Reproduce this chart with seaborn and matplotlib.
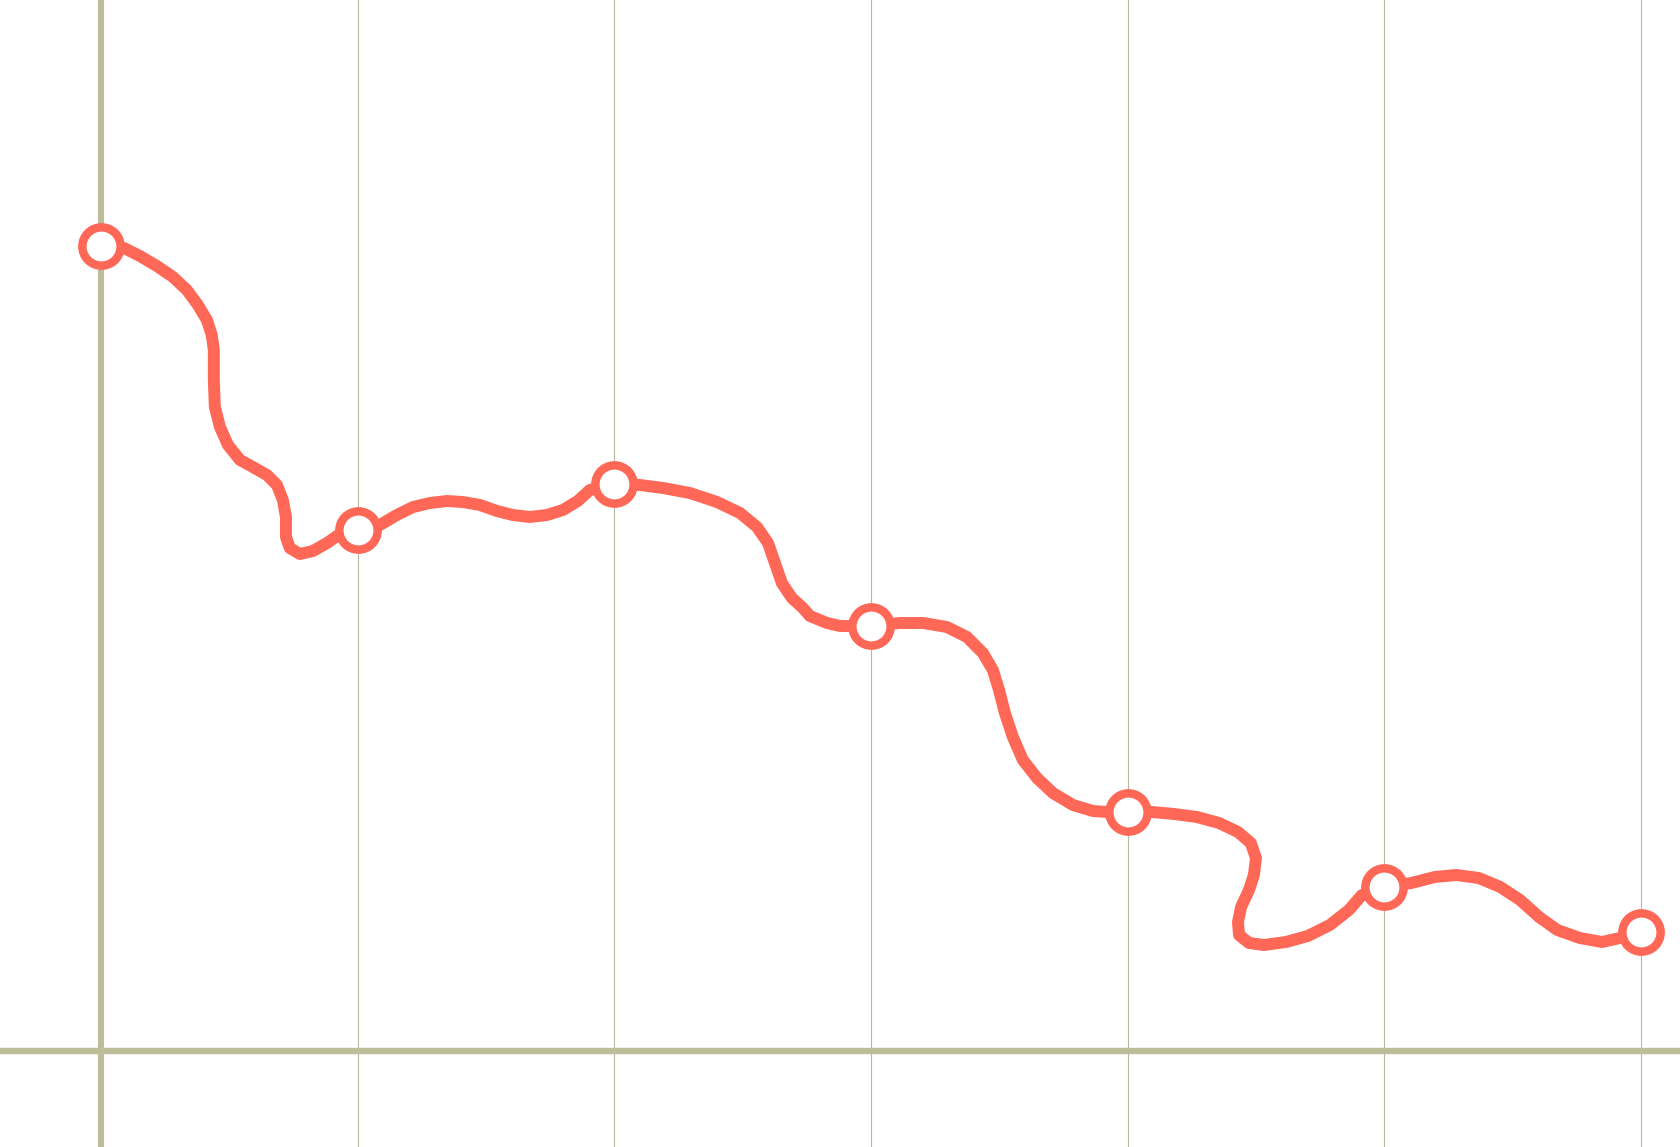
import matplotlib
matplotlib.use("Agg")
import matplotlib.pyplot as plt
import seaborn as sns
import pandas as pd

# data points (categories 0..6, no labels shown)
point_x = [0, 1, 2, 3, 4, 5, 6]
point_y = [8.05, 5.21, 5.67, 4.25, 2.39, 1.64, 1.19]

# the wavy path drawn between the points
path_x = [
    0.0, 0.090, 0.152, 0.218, 0.281, 0.335, 0.378, 0.413, 0.432, 0.440, 0.440,
    0.444, 0.464, 0.495, 0.542, 0.592, 0.647, 0.686, 0.709, 0.721, 0.721, 0.736,
    0.775, 0.826, 0.881, 0.931, 1.0,
    1.087, 1.153, 1.216, 1.282, 1.348, 1.410, 1.477, 1.543, 1.605, 1.671, 1.738,
    1.800, 1.858, 1.905, 2.0,
    2.100, 2.190, 2.295, 2.400, 2.490, 2.556, 2.599, 2.626, 2.653, 2.692, 2.735,
    2.762, 2.829, 2.879, 3.0,
    3.113, 3.203, 3.296, 3.374, 3.436, 3.475, 3.499, 3.522, 3.553, 3.592, 3.647,
    3.709, 3.787, 3.865, 3.919, 4.0,
    4.095, 4.181, 4.270, 4.356, 4.430, 4.480, 4.500, 4.492, 4.473, 4.442, 4.430,
    4.434, 4.473, 4.531, 4.617, 4.702, 4.788, 4.862, 4.913, 5.0,
    5.105, 5.197, 5.280, 5.368, 5.452, 5.529, 5.603, 5.674, 5.762, 5.848, 5.918,
    6.0,
]
path_y = [
    8.05, 8.03, 7.95, 7.85, 7.74, 7.61, 7.46, 7.31, 7.16, 7.01, 6.71,
    6.44, 6.24, 6.06, 5.91, 5.84, 5.76, 5.66, 5.51, 5.34, 5.14, 5.03,
    4.97, 5.00, 5.08, 5.17, 5.21,
    5.26, 5.36, 5.44, 5.48, 5.50, 5.49, 5.46, 5.40, 5.36, 5.34, 5.36,
    5.41, 5.50, 5.61, 5.67,
    5.66, 5.63, 5.58, 5.49, 5.38, 5.24, 5.08, 4.88, 4.68, 4.53, 4.43,
    4.35, 4.28, 4.25, 4.25,
    4.28, 4.28, 4.24, 4.14, 3.98, 3.81, 3.61, 3.38, 3.14, 2.91, 2.73,
    2.58, 2.46, 2.40, 2.39, 2.39,
    2.39, 2.37, 2.34, 2.28, 2.19, 2.08, 1.93, 1.76, 1.61, 1.44, 1.29,
    1.16, 1.08, 1.06, 1.09, 1.15, 1.26, 1.41, 1.56, 1.64,
    1.68, 1.74, 1.76, 1.73, 1.64, 1.51, 1.34, 1.21, 1.13, 1.09, 1.13,
    1.19,
]

red = "#ff6756"
olive = "#bdbd9a"

sns.set_style("white")
fig = plt.figure(figsize=(16.8, 11.47), dpi=100)
ax = fig.add_axes([0, 0, 1, 1])

ax.set_xlim(-0.393, 6.152)
ax.set_ylim(-0.96, 10.51)
ax.set_xticks(point_x)
ax.set_yticks([])
ax.set_xticklabels([])
ax.tick_params(length=0)
ax.grid(axis="x", color="#b8b89c", linewidth=0.8)
ax.set_axisbelow(True)
for s in ax.spines.values():
    s.set_visible(False)

ax.axvline(0, color=olive, linewidth=4.4, zorder=1)
ax.axhline(0, color=olive, linewidth=4.6, zorder=1)

path = pd.DataFrame({"x": path_x, "y": path_y})
sns.lineplot(data=path, x="x", y="y", sort=False, estimator=None, color=red,
             linewidth=8.6, ax=ax, zorder=3)
for ln in ax.lines:
    if ln.get_color() == red:
        ln.set_solid_joinstyle("round")
        ln.set_solid_capstyle("round")

pts = pd.DataFrame({"x": point_x, "y": point_y})
sns.scatterplot(data=pts, x="x", y="y", s=760, color="white", ax=ax, zorder=4)
coll = ax.collections[-1]
coll.set_edgecolor(red)
coll.set_linewidth(6.1)

ax.set_xlabel("")
ax.set_ylabel("")
fig.savefig("out.png", dpi=100)
